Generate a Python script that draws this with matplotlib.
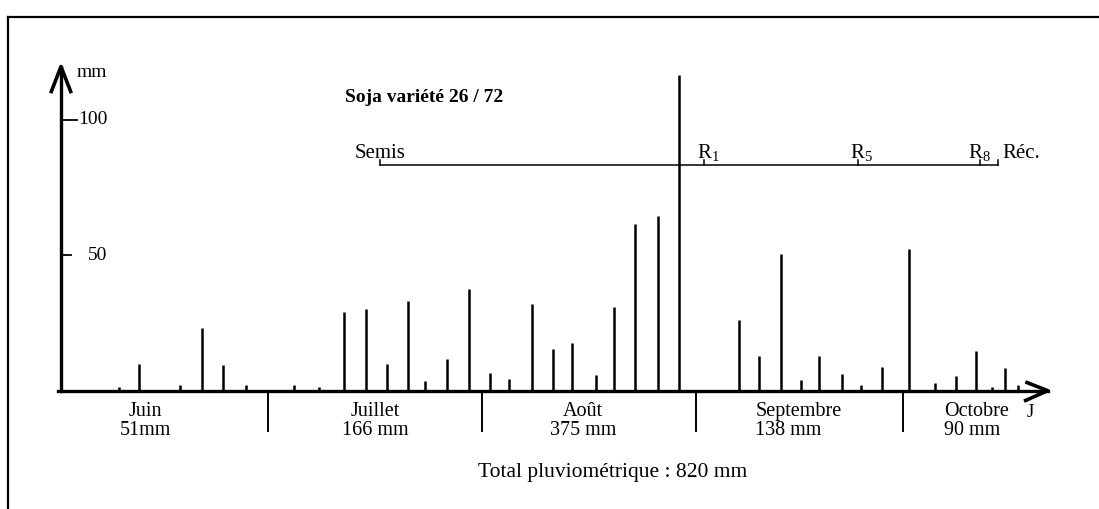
import matplotlib
matplotlib.use("Agg")
import matplotlib.pyplot as plt
from matplotlib.lines import Line2D

plt.rcParams['font.family'] = ['Liberation Serif', 'DejaVu Serif']
plt.rcParams['mathtext.fontset'] = 'custom'
plt.rcParams['mathtext.rm'] = 'Liberation Serif'

# pluies journalières (jours comptés depuis le 1er juin, mm)
jour = [8.4, 11.3, 17.3, 20.4, 23.5, 26.8,
        33.8, 37.4, 41.0, 44.2, 47.2, 50.3, 52.8, 55.9, 59.1,
        62.1, 64.9, 68.2, 71.3, 74.1, 77.5, 80.2, 83.2, 86.5, 89.6,
        98.2, 101.2, 104.3, 107.3, 109.9, 113.2, 116.0, 119.0,
        122.9, 126.6, 129.7, 132.6, 134.9, 136.8, 138.7]
pluie = [1.5, 10, 2, 23, 9.5, 2,
         2, 1.5, 29, 30, 10, 33, 3.6, 11.6, 37.5,
         6.4, 4.2, 32, 15.4, 17.5, 5.7, 31, 61.4, 64.7, 116.5,
         26, 12.8, 50.6, 4, 12.8, 6, 2.2, 8.7,
         52.5, 3, 5.5, 14.8, 1.5, 8.5, 2]

mois = ['Juin', 'Juillet', 'Août', 'Septembre', 'Octobre']
cumul = ['51mm', '166 mm', '375 mm', '138 mm', '90 mm']
fin_mois = [30, 61, 92, 122]

stades = ['Semis', r'R$_\mathrm{1}$', r'R$_\mathrm{5}$', r'R$_\mathrm{8}$', 'Réc.']
jour_stade = [46.2, 93.2, 115.5, 133.2, 135.8]

fig = plt.figure(figsize=(10.99, 5.09), dpi=100)
ax = fig.add_axes([0, 0, 1, 1])
ax.set_xlim(-8.84, 150.43)
ax.set_ylim(-43.7, 144.3)
ax.axis('off')

fs = 14.5

# barres de pluie
ax.vlines(jour, 0, pluie, colors='black', linewidth=1.8)

# axes avec flèches
ax.plot([-0.4, 143], [0, 0], color='black', lw=2.4)
ax.plot([140.0, 143, 139.8], [3.0, 0, -3.6], color='black', lw=2.6)
ax.plot([0, 0], [0, 119.7], color='black', lw=2.4)
ax.plot([-1.4, 0, 1.4], [110.5, 119.7, 110.5], color='black', lw=2.6)

# graduations verticales
ax.plot([0.3, 2.3], [100, 100], color='black', lw=1.3)
ax.plot([0.3, 1.5], [50, 50], color='black', lw=1.3)
ax.text(6.7, 100, '100', ha='right', va='center', fontsize=14)
ax.text(6.7, 50, '50', ha='right', va='center', fontsize=14)
ax.text(2.2, 117.4, 'mm', ha='left', va='center', fontsize=14)

# séparations des mois
ax.vlines(fin_mois, -15.2, 0, colors='black', linewidth=1.4)

# étiquettes des mois
pos_mois = [12.3, 45.5, 75.7, 100.6, 128.0]
align = ['center', 'center', 'center', 'left', 'left']
for m, c, x, a in zip(mois, cumul, pos_mois, align):
    ax.text(x, -7.6, m, ha=a, va='center', fontsize=fs)
    ax.text(x, -14.6, c, ha=a, va='center', fontsize=fs)
ax.text(140.4, -8.2, 'J', ha='center', va='center', fontsize=13.5)

ax.text(80.0, -30.4, 'Total pluviométrique : 820 mm', ha='center',
        va='center', fontsize=15.5)

# cycle du soja
ax.text(41.2, 108.2, 'Soja variété 26 / 72', ha='left', va='center',
        fontsize=14, fontweight='bold')
y_cycle = 83.4
ax.plot([jour_stade[0], jour_stade[-1]], [y_cycle, y_cycle], color='black', lw=1.1)
for j in jour_stade:
    ax.plot([j, j], [y_cycle, y_cycle + 1.8], color='black', lw=1.1)
dx = [-3.6, -1.0, -1.2, -1.8, 0.6]
for s, j, d in zip(stades, jour_stade, dx):
    ax.text(j + d, 87.6, s, ha='left', va='center', fontsize=15)

# cadre
fig.add_artist(Line2D([8 / 1099, 8 / 1099], [0, 1 - 17 / 509],
                      color='black', lw=1.6, transform=fig.transFigure))
fig.add_artist(Line2D([8 / 1099, 1], [1 - 17 / 509, 1 - 17 / 509],
                      color='black', lw=1.6, transform=fig.transFigure))

fig.savefig('out.png', dpi=100, facecolor='white')
